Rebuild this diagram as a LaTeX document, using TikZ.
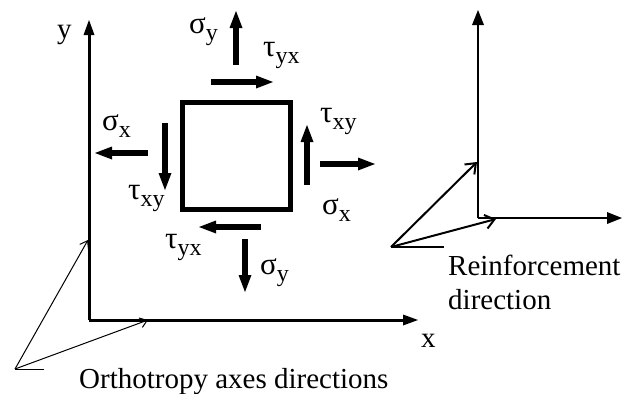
\documentclass[tikz,border=0pt]{standalone}
\usepackage{fontspec}
\setmainfont{Liberation Serif}
\usetikzlibrary{arrows.meta}
\newcommand\mysub[1]{\raisebox{-7pt}{\fontsize{24}{24}\selectfont #1}}
\begin{document}
\begin{tikzpicture}[x=1pt,y=-1pt,
  lbl/.style={inner sep=0pt, anchor=base west, font=\fontsize{29}{33}\selectfont},
  glbl/.style={inner sep=0pt, anchor=base west, font=\fontsize{31}{33}\selectfont},
  force/.style={line width=6pt, -{Triangle[length=17pt,width=13pt,line width=0pt]}},
  axis/.style={line width=3pt, -{Triangle[length=15pt,width=11pt,line width=0pt]}},
  raxis/.style={line width=2.5pt, -{Triangle[length=15pt,width=12pt,line width=0pt]}},
  thin/.style={line width=1pt},
  thinarrow/.style={line width=1pt, -{Straight Barb[length=7pt,width=10pt]}},
  medium/.style={line width=2pt},
  medarrow/.style={line width=2pt, -{Straight Barb[length=9pt,width=14pt]}}
]
\useasboundingbox (0,0) rectangle (622,394);
% left axes
\coordinate (O) at (89,320);
\coordinate (Ytip) at (89,20);
\coordinate (Xtip) at (418,320);
\draw[axis] (O) -- (Ytip);
\draw[axis] (O) -- (Xtip);
\node[lbl] (ylab) at (57,38) {y};
\node[lbl] (xlab) at (421,347) {x};
% square
\node[draw, line width=5pt, minimum width=108pt, minimum height=107pt, inner sep=0pt] (sq) at (236.5,156) {};
% forces
\coordinate (a1) at (236,65);  \coordinate (b1) at (236,11);
\coordinate (a2) at (211,82);  \coordinate (b2) at (273,82);
\coordinate (a3) at (148,153); \coordinate (b3) at (95,153);
\coordinate (a4) at (165,123); \coordinate (b4) at (165,190);
\coordinate (a5) at (307,185); \coordinate (b5) at (307,125);
\coordinate (a6) at (320,164); \coordinate (b6) at (375,164);
\coordinate (a7) at (261,227); \coordinate (b7) at (199,227);
\coordinate (a8) at (245,239); \coordinate (b8) at (245,292);
\foreach \i in {1,...,8} {\draw[force] (a\i) -- (b\i);}
% labels
\node[glbl] (l1) at (189,33) {σ\mysub{y}};
\node[glbl] (l2) at (263,56) {τ\mysub{yx}};
\node[glbl] (l3) at (102,130) {σ\mysub{x}};
\node[glbl] (l4) at (128,199) {τ\mysub{xy}};
\node[glbl] (l5) at (320,122) {τ\mysub{xy}};
\node[glbl] (l6) at (322,214) {σ\mysub{x}};
\node[glbl] (l7) at (165,248) {τ\mysub{yx}};
\node[glbl] (l8) at (260,274) {σ\mysub{y}};
% orthotropy pointer
\coordinate (P) at (15,369);
\coordinate (Pt) at (44,369);
\coordinate (Py) at (88,240);
\coordinate (Px) at (148,320);
\draw[thin] (P) -- (Pt);
\draw[thinarrow] (P) -- (Py);
\draw[thinarrow] (P) -- (Px);
\node[lbl] (ortho) at (79,388) {Orthotropy axes directions};
% right axes
\coordinate (R) at (478,218);
\coordinate (RY) at (478,10);
\coordinate (RX) at (622,218);
\draw[raxis] (R) -- (RY);
\draw[raxis] (R) -- (RX);
\coordinate (Q) at (391,247);
\coordinate (Qt) at (444,247);
\coordinate (Qa) at (477,162);
\coordinate (Qb) at (496,219);
\draw[medium] (Q) -- (Qt);
\draw[medarrow] (Q) -- (Qa);
\draw[medarrow] (Q) -- (Qb);
\node[lbl] (reinf) at (448,275) {Reinforcement};
\node[lbl] (dir) at (448,309) {direction};
\end{tikzpicture}
\end{document}
